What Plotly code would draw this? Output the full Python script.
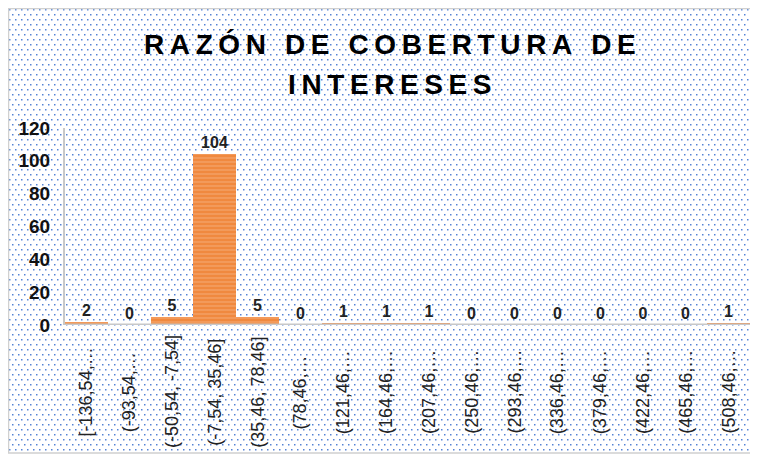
import base64
import plotly.graph_objects as go

categories = ["[-136,54,…", "(-93,54,…", "(-50,54, -7,54]", "(-7,54, 35,46]", "(35,46, 78,46]",
              "(78,46,…", "(121,46,…", "(164,46,…", "(207,46,…", "(250,46,…", "(293,46,…",
              "(336,46,…", "(379,46,…", "(422,46,…", "(465,46,…", "(508,46,…"]
counts = [2, 0, 5, 104, 5, 0, 1, 1, 1, 0, 0, 0, 0, 0, 0, 1]
y_ticks = [0, 20, 40, 60, 80, 100, 120]
title_lines = ["RAZÓN DE COBERTURA DE", "INTERESES"]

# page body has an 8px margin, so the figure is 750x451
W, H = 750, 451
L, R, T, B = 57, 8, 120, 134
pw, ph = W - L - R, H - T - B

svg = (f'<svg xmlns="http://www.w3.org/2000/svg" width="{W}" height="{H}">'
       '<defs><pattern id="p" width="6" height="10" patternUnits="userSpaceOnUse">'
       '<rect x="1" y="1" width="1.5" height="1.5" fill="#5584d6"/>'
       '<rect x="4" y="6" width="1.5" height="1.5" fill="#5584d6"/>'
       '</pattern></defs>'
       f'<rect width="{W}" height="{H}" fill="white"/>'
       f'<rect x="1" y="1" width="{W-4}" height="{H-6}" fill="url(#p)"/>'
       '</svg>')
uri = "data:image/svg+xml;base64," + base64.b64encode(svg.encode()).decode()

def spaced(s):
    return "\u2009".join(s)

fig = go.Figure()
fig.add_trace(go.Bar(
    x=categories, y=counts, width=1.0,
    marker=dict(color="#F0893F", line=dict(width=0),
                pattern=dict(shape="-", fillmode="overlay", fgcolor="#F9C29A", size=4, solidity=0.3)),
    text=[str(c) for c in counts], textposition="outside", cliponaxis=False,
    textfont=dict(family="Liberation Sans, Arial", size=16, color="#222222", weight="bold"),
))

title_font = dict(family="Liberation Sans, Arial", size=28, color="black", weight="bold")
cx = (382 - L) / pw
annotations = [
    dict(text=spaced(title_lines[0]), xref="paper", yref="paper", x=cx, y=1 + (T - 37) / ph,
         xanchor="center", yanchor="middle", showarrow=False, font=title_font),
    dict(text=spaced(title_lines[1]), xref="paper", yref="paper", x=cx, y=1 + (T - 77) / ph,
         xanchor="center", yanchor="middle", showarrow=False, font=title_font),
]
# category labels, centred below the axis (as in the original)
for c in categories:
    annotations.append(dict(text=c, xref="x", yref="paper", x=c, y=-(384 - (H - B)) / ph,
                            xanchor="center", yanchor="middle", textangle=-90, showarrow=False,
                            font=dict(family="Liberation Sans Narrow, Liberation Sans", size=18, color="#222222")))

fig.update_layout(
    width=W, height=H,
    margin=dict(l=L, r=R, t=T, b=B, autoexpand=False),
    paper_bgcolor="white", plot_bgcolor="rgba(0,0,0,0)",
    showlegend=False, bargap=0,
    annotations=annotations,
    xaxis=dict(type="category", showticklabels=False, showgrid=False, showline=False, ticks="",
               automargin=False),
    yaxis=dict(range=[0, 120], tickvals=y_ticks, showgrid=False, zeroline=False, automargin=False,
               showline=True, linecolor="#c8c8c8", linewidth=2, ticks="", ticklabelstandoff=9,
               tickfont=dict(family="Liberation Sans, Arial", size=19, color="#111111", weight="bold")),
    images=[dict(source=uri, xref="paper", yref="paper", x=-L / pw, y=1 + T / ph,
                 sizex=W / pw, sizey=H / ph, sizing="stretch", layer="below",
                 xanchor="left", yanchor="top")],
    shapes=[dict(type="line", xref="paper", yref="y", x0=0, x1=1, y0=0, y1=0,
                 line=dict(color="#c8c8c8", width=3), layer="above"),
            dict(type="rect", xref="paper", yref="paper", x0=-(L - 0.5) / pw, x1=1 + (R - 4) / pw,
                 y0=-(B - 6) / ph, y1=1 + (T - 0.5) / ph, line=dict(color="#d0d0d0", width=1.5))],
)
fig.write_html("out.html")
